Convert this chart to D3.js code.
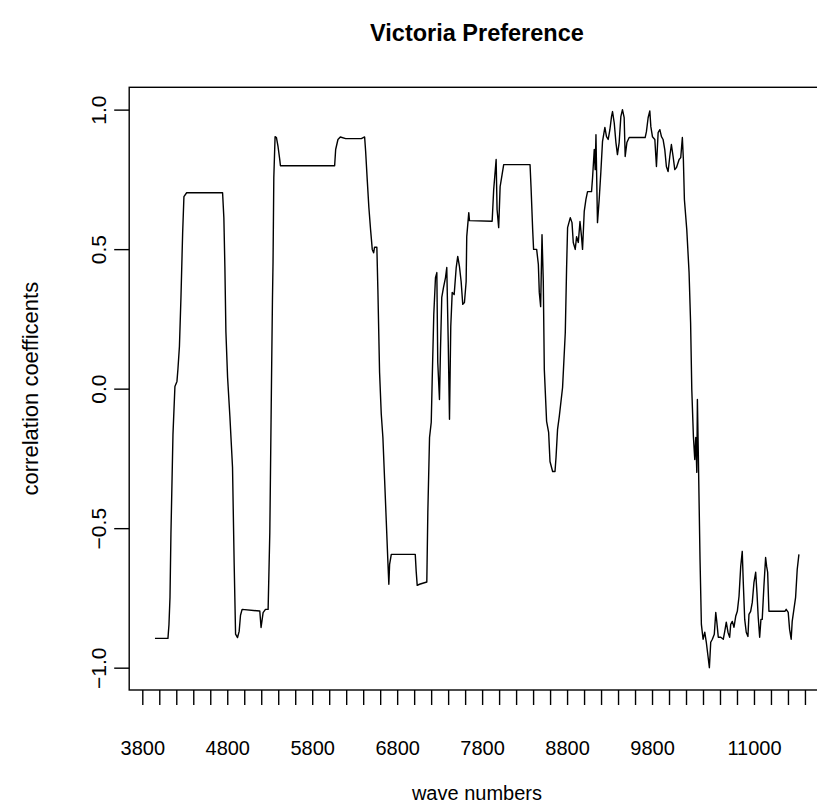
<!DOCTYPE html>
<html>
<head>
<meta charset="utf-8">
<script src="https://cdn.jsdelivr.net/npm/d3@7"></script>
<style>
  html, body { margin: 0; padding: 0; background: #fff; }
  svg { display: block; font-family: "Liberation Sans", Arial, sans-serif; }
</style>
</head>
<body>
<div id="chart"></div>
<script>
// wave numbers (x) and correlation coefficients (y)
var waveNumbers = [
  3949, 4102, 4114, 4126, 4137, 4161, 4184, 4208, 4220, 4237, 4255, 4275, 4290, 4322, 4745, 4760,
  4772, 4784, 4804, 4831, 4862, 4881, 4898, 4921, 4940, 4956, 4975, 5183, 5198, 5222, 5250, 5281,
  5301, 5321, 5332, 5339, 5348, 5363, 5379, 5398, 5418, 5426, 6064, 6076, 6103, 6131, 6194, 6378,
  6417, 6429, 6449, 6467, 6487, 6507, 6523, 6534, 6561, 6573, 6593, 6613, 6632, 6652, 6672, 6691,
  6702, 6711, 6731, 7013, 7024, 7036, 7063, 7149, 7161, 7181, 7201, 7212, 7231, 7251, 7267, 7278,
  7298, 7310, 7325, 7345, 7369, 7384, 7401, 7416, 7431, 7448, 7471, 7495, 7513, 7533, 7553, 7572,
  7592, 7612, 7619, 7643, 7651, 7918, 7936, 7965, 7976, 7995, 8012, 8035, 8054, 8364, 8376, 8395,
  8406, 8442, 8462, 8473, 8489, 8505, 8520, 8532, 8559, 8583, 8599, 8630, 8658, 8670, 8688, 8708,
  8747, 8779, 8794, 8806, 8838, 8858, 8873, 8896, 8912, 8932, 8952, 8970, 8982, 9002, 9022, 9041,
  9088, 9100, 9120, 9131, 9140, 9158, 9178, 9198, 9217, 9245, 9264, 9284, 9304, 9323, 9335, 9355,
  9375, 9393, 9413, 9433, 9452, 9472, 9484, 9504, 9531, 9719, 9734, 9754, 9774, 9786, 9805, 9833,
  9852, 9872, 9892, 9911, 9930, 9950, 9969, 9989, 10009, 10028, 10048, 10068, 10087, 10119, 10138, 10157,
  10169, 10181, 10209, 10236, 10254, 10268, 10287, 10303, 10315, 10327, 10334, 10345, 10365, 10381, 10401, 10421,
  10439, 10459, 10475, 10491, 10510, 10533, 10550, 10562, 10580, 10609, 10639, 10656, 10674, 10694, 10714, 10726,
  10745, 10765, 10785, 10804, 10824, 10844, 10862, 10874, 10891, 10909, 10929, 10941, 10961, 10980, 11000, 11020,
  11035, 11050, 11067, 11082, 11097, 11117, 11137, 11149, 11161, 11176, 11364, 11379, 11403, 11419, 11438, 11450,
  11470, 11490, 11509, 11529
];
var correlations = [
  -0.895, -0.895, -0.845, -0.748, -0.522, -0.164, 0.008, 0.026, 0.072, 0.151, 0.327, 0.559, 0.688, 0.702, 0.702, 0.613,
  0.438, 0.205, 0.040, -0.100, -0.282, -0.622, -0.880, -0.892, -0.870, -0.812, -0.791, -0.797, -0.856, -0.803, -0.791, -0.791,
  -0.515, 0.033, 0.319, 0.456, 0.756, 0.903, 0.900, 0.867, 0.821, 0.799, 0.799, 0.857, 0.893, 0.902, 0.896, 0.896,
  0.902, 0.850, 0.742, 0.649, 0.570, 0.499, 0.487, 0.507, 0.507, 0.355, 0.058, -0.092, -0.175, -0.325, -0.476, -0.622,
  -0.701, -0.630, -0.594, -0.594, -0.655, -0.705, -0.701, -0.693, -0.443, -0.175, -0.121, 0.026, 0.266, 0.398, 0.416, 0.094,
  -0.039, 0.140, 0.327, 0.362, 0.398, 0.434, 0.169, -0.110, 0.223, 0.345, 0.337, 0.434, 0.474, 0.438, 0.384, 0.302,
  0.309, 0.384, 0.545, 0.631, 0.602, 0.600, 0.713, 0.821, 0.642, 0.577, 0.724, 0.767, 0.803, 0.803, 0.721, 0.570,
  0.499, 0.499, 0.445, 0.345, 0.294, 0.552, 0.384, 0.069, -0.117, -0.157, -0.261, -0.297, -0.297, -0.246, -0.146, -0.100,
  0.004, 0.201, 0.427, 0.577, 0.613, 0.595, 0.524, 0.499, 0.545, 0.524, 0.599, 0.545, 0.499, 0.635, 0.678, 0.706,
  0.706, 0.756, 0.857, 0.785, 0.910, 0.595, 0.678, 0.778, 0.885, 0.936, 0.903, 0.893, 0.928, 0.975, 0.993, 0.953,
  0.882, 0.839, 0.882, 0.975, 1.000, 0.971, 0.832, 0.882, 0.900, 0.900, 0.921, 0.971, 0.995, 0.939, 0.903, 0.893,
  0.796, 0.918, 0.928, 0.903, 0.893, 0.857, 0.796, 0.778, 0.832, 0.875, 0.832, 0.785, 0.792, 0.821, 0.828, 0.900,
  0.821, 0.678, 0.570, 0.416, 0.237, -0.003, -0.171, -0.254, -0.175, -0.300, -0.039, -0.236, -0.612, -0.845, -0.898, -0.873,
  -0.909, -0.959, -1.000, -0.909, -0.898, -0.880, -0.802, -0.834, -0.891, -0.891, -0.898, -0.870, -0.837, -0.873, -0.891, -0.845,
  -0.834, -0.855, -0.816, -0.798, -0.744, -0.637, -0.583, -0.694, -0.827, -0.873, -0.888, -0.809, -0.798, -0.766, -0.694, -0.658,
  -0.730, -0.819, -0.891, -0.827, -0.827, -0.708, -0.605, -0.637, -0.658, -0.798, -0.798, -0.791, -0.802, -0.862, -0.898, -0.834,
  -0.791, -0.748, -0.648, -0.594
];

var xTicks = d3.range(3800, 11601, 200);
var xTickLabels = [3800, 4800, 5800, 6800, 7800, 8800, 9800, 11000];
var yTicks = [-1.0, -0.5, 0.0, 0.5, 1.0];

var titleText = "Victoria Preference",
    xLabel = "wave numbers",
    yLabel = "correlation coefficents";

var width = 817, height = 810;
var plotLeft = 129.2, plotTop = 87.3, plotBottom = 690;

// R style axis range: data extent padded by 4% on each side
function padded(ext) {
  var r = ext[1] - ext[0];
  return [ext[0] - 0.04 * r, ext[1] + 0.04 * r];
}
var xDom = padded(d3.extent(waveNumbers));
var yDom = padded(d3.extent(correlations));

// plot region runs past the right edge of the picture
var plotRight = plotLeft + (xDom[1] - xDom[0]) * (142.3 - plotLeft) / (3800 - xDom[0]);

var x = d3.scaleLinear().domain(xDom).range([plotLeft, plotRight]);
var y = d3.scaleLinear().domain(yDom).range([plotBottom, plotTop]);

var svg = d3.select("#chart").append("svg")
    .attr("width", width)
    .attr("height", height)
    .style("overflow", "hidden");

// title
svg.append("text")
    .attr("x", (plotLeft + plotRight) / 2)
    .attr("y", 33)
    .attr("dy", "0.35em")
    .attr("text-anchor", "middle")
    .style("font-size", "23.5px")
    .style("font-weight", "bold")
    .text(titleText);

// box
svg.append("rect")
    .attr("x", plotLeft)
    .attr("y", plotTop)
    .attr("width", plotRight - plotLeft)
    .attr("height", plotBottom - plotTop)
    .attr("fill", "none")
    .attr("stroke", "#000")
    .attr("stroke-width", 1.4);

// x axis
var xAxis = d3.axisBottom(x)
    .tickValues(xTicks)
    .tickSize(15)
    .tickPadding(0)
    .tickFormat(d => xTickLabels.indexOf(d) >= 0 ? d : "");
var gx = svg.append("g")
    .attr("transform", "translate(0," + plotBottom + ")")
    .call(xAxis);
gx.select(".domain").remove();
gx.selectAll(".tick line").attr("stroke", "#000").attr("stroke-width", 1.4);
gx.selectAll(".tick text")
    .attr("y", 58)
    .attr("dy", "0.35em")
    .attr("fill", "#000")
    .style("font-size", "20px")
    .style("font-family", "'Liberation Sans', Arial, sans-serif");

// y axis
var yAxis = d3.axisLeft(y)
    .tickValues(yTicks)
    .tickSize(15)
    .tickFormat(d3.format(".1f"));
var gy = svg.append("g")
    .attr("transform", "translate(" + plotLeft + ",0)")
    .call(yAxis);
gy.select(".domain").remove();
gy.selectAll(".tick line").attr("stroke", "#000").attr("stroke-width", 1.4);
gy.selectAll(".tick text")
    .attr("x", null)
    .attr("text-anchor", "middle")
    .attr("transform", "translate(-31,0) rotate(-90)")
    .attr("dy", "0.35em")
    .attr("fill", "#000")
    .style("font-size", "21px")
    .style("font-family", "'Liberation Sans', Arial, sans-serif");

// axis titles
svg.append("text")
    .attr("x", (plotLeft + plotRight) / 2)
    .attr("y", 793)
    .attr("dy", "0.35em")
    .attr("text-anchor", "middle")
    .style("font-size", "20px")
    .text(xLabel);

svg.append("text")
    .attr("transform", "translate(30," + (plotTop + plotBottom) / 2 + ") rotate(-90)")
    .attr("dy", "0.35em")
    .attr("text-anchor", "middle")
    .style("font-size", "22px")
    .text(yLabel);

// the series
var line = d3.line()
    .x((d, i) => x(waveNumbers[i]))
    .y(d => y(d));

svg.append("path")
    .datum(correlations)
    .attr("d", line)
    .attr("fill", "none")
    .attr("stroke", "#000")
    .attr("stroke-width", 1.4)
    .attr("stroke-linejoin", "round");
</script>
</body>
</html>
